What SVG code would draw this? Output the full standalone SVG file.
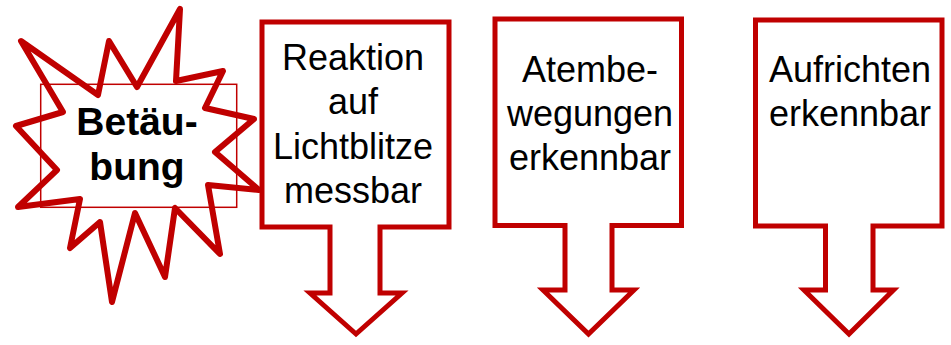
<svg xmlns="http://www.w3.org/2000/svg" width="951" height="345" viewBox="0 0 951 345">
<style>
.shape{fill:#fff;stroke:#C00000;stroke-width:5;stroke-linejoin:miter;stroke-miterlimit:10}
.star{fill:#fff;stroke:#C00000;stroke-width:6;stroke-linejoin:round}
.frame{fill:none;stroke:#C00000;stroke-width:1.5}
.t{font-family:"Liberation Sans",Arial,sans-serif;font-size:36px;fill:#000;text-anchor:middle}
.tb{font-family:"Liberation Sans",Arial,sans-serif;font-size:39px;font-weight:bold;fill:#000;text-anchor:middle}
</style>
<rect width="951" height="345" fill="#fff"/>
<g id="betaeubung">
<polygon class="star" points="180,9 176,81 223,71 205,108 254,119 215,152 259,190 208,185 220,254 175,208 165,277 135,213 112,302 100,222 70,248 80,199 18,207 57,170 16,126 63,112 21,41 98,95 109,41 137,87"/>
<rect class="frame" x="40.7" y="84.3" width="196" height="123"/>
<text class="tb" x="137" y="135">Betäu-</text>
<text class="tb" x="137" y="180">bung</text>
</g>
<g id="reaktion">
<path class="shape" d="M262,22 H449 V227 H380 V293 H402 L356,334 L310,293 H330 V227 H262 Z"/>
<text class="t" x="353" y="70">Reaktion</text>
<text class="t" x="353" y="114">auf</text>
<text class="t" x="353" y="159">Lichtblitze</text>
<text class="t" x="353" y="203">messbar</text>
</g>
<g id="atembewegungen">
<path class="shape" d="M495,19 H681.5 V225.5 H612 V290 H634 L588.5,334 L543,290 H565 V225.5 H495 Z"/>
<text class="t" x="590" y="82">Atembe-</text>
<text class="t" x="590" y="126">wegungen</text>
<text class="t" x="590" y="170">erkennbar</text>
</g>
<g id="aufrichten">
<path class="shape" d="M755.5,20 H942 V226 H873 V290 H893.5 L849,334 L804,290 H825.5 V226 H755.5 Z"/>
<text class="t" x="850" y="82">Aufrichten</text>
<text class="t" x="850" y="126">erkennbar</text>
</g>
<g id="connectors"></g>
</svg>
